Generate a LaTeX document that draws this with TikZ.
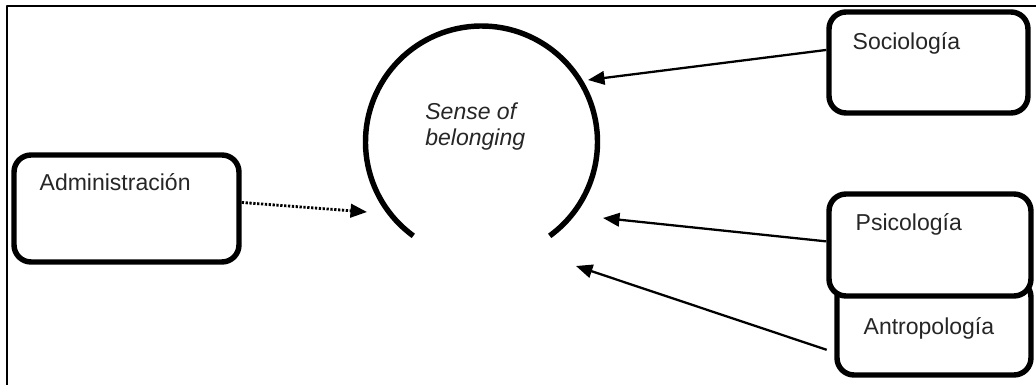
\documentclass[tikz,border=0pt]{standalone}
\usepackage{fontspec}
\setmainfont{Liberation Sans}
\usetikzlibrary{arrows.meta}

\tikzset{
  box/.style={draw, line width=3.1pt, rounded corners=0.34cm, fill=white, inner sep=0pt},
  lbl/.style={anchor=base west, inner sep=0pt, text=black!85},
  arr/.style={line width=1.3pt, -{Triangle[length=3.3mm, width=2.7mm]}},
}

\begin{document}
\begin{tikzpicture}[x=0.02cm, y=-0.02cm, line join=round, font=\fontsize{13.1}{15.3}\selectfont]

\useasboundingbox (0,0) rectangle (1036,385);
\draw[line width=1.4pt] (7,385) -- (7,6) -- (1036,6);

% boxes
\node[box, minimum width=4.5cm, minimum height=2.14cm] (adm) at (126.5,208.5) {};
\node[box, minimum width=3.98cm, minimum height=2.02cm] (soc) at (928.5,62.5) {};
\node[box, minimum width=3.88cm, minimum height=1.9cm] (ant) at (934,327.5) {};
\node[box, minimum width=4.04cm, minimum height=2.04cm] (psi) at (930,245) {};

\node[lbl] (adm-t) at ([shift={(28,38)}]adm.north west) {Administración};
\node[lbl] (soc-t) at ([shift={(26,40)}]soc.north west) {Sociología};
\node[lbl] (psi-t) at ([shift={(29,39)}]psi.north west) {Psicología};
\node[lbl] (ant-t) at ([shift={(29,57)}]ant.north west) {Antropología};

% sense of belonging
\draw[line width=3.1pt] (481.5,142) ++(126:116) arc[start angle=126, end angle=414, radius=116];
\node[anchor=north west, inner sep=0pt, align=left, text=black!85,
      font=\fontsize{13.1}{15.3}\selectfont\itshape] (sob) at (425,102) {Sense of\\belonging};

\coordinate (soc-tip) at (588,80);
\coordinate (psi-tip) at (603,218);
\coordinate (ant-tip) at (576,266);
\coordinate (adm-tip) at (367,212);

\draw[arr] (soc.173) -- (soc-tip);
\draw[arr] (psi.178) -- (psi-tip);
\draw[arr, shorten <=0.16cm] (ant.194) -- (ant-tip);
\draw[arr, line width=1.6pt, dash pattern=on 1.3pt off 0.9pt] (adm.3) -- (adm-tip);

\end{tikzpicture}
\end{document}
